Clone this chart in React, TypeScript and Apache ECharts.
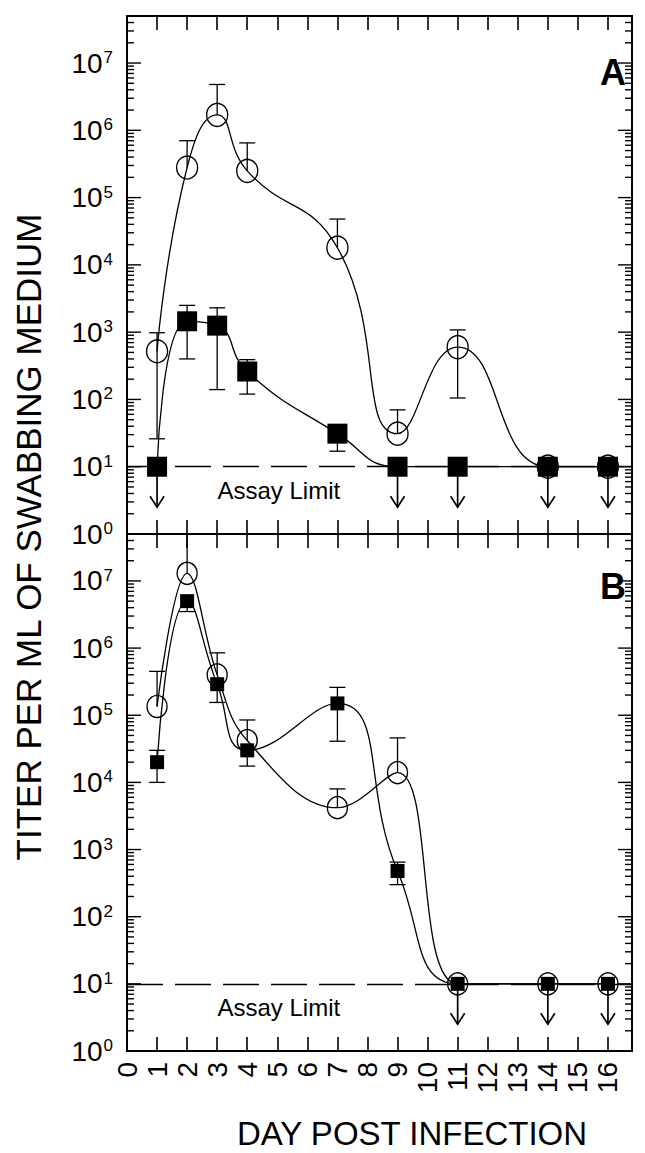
import React, { useEffect, useRef } from 'react';
import * as echarts from 'echarts';

// ---------- data ----------
const days = [1, 2, 3, 4, 7, 9, 11, 14, 16];

// Panel A
const aCircle = [520, 2.8e5, 1.7e6, 2.5e5, 1.8e4, 31, 600, 10, 10];
const aCircleHi = [980, 7e5, 4.8e6, 6.5e5, 4.8e4, 70, 1080, null, null];
const aCircleLo = [26, null, null, null, null, null, 105, null, null];
const aSquare = [10, 1450, 1250, 260, 31, 10, 10, 10, 10];
const aSquareHi = [null, 2500, 2300, 390, null, null, null, null, null];
const aSquareLo = [null, 400, 140, 120, 17, null, null, null, null];
const aArrowDays = [1, 9, 11, 14, 16];

// Panel B
const bCircle = [1.35e5, 1.3e7, 4e5, 4.2e4, 4.2e3, 1.4e4, 10, 10, 10];
const bCircleHi = [4.5e5, 5e7, 8.5e5, 8.5e4, 8e3, 4.6e4, null, null, null];
const bCircleLo = [null, null, null, null, null, null, null, null, null];
const bSquare = [2e4, 5e6, 2.9e5, 3e4, 1.5e5, 480, 10, 10, 10];
const bSquareHi = [3e4, null, null, null, 2.6e5, 650, null, null, null];
const bSquareLo = [1e4, 3.5e6, 1.55e5, 1.75e4, 4.1e4, 300, null, null, null];
const bArrowDays = [11, 14, 16];

const assayLimit = 10;
const assayLabel = 'Assay Limit';
const assayLabelAt = [5.05, 4.4];
const arrowTip = 2.5;
const yDecades = [1, 10, 100, 1e3, 1e4, 1e5, 1e6, 1e7];
const yMinorSteps = [2, 3, 4, 5, 6, 7, 8, 9];
const yMin = 1;
const yMax = 5e7;
const xMin = 0;
const xMax = 16.8;

const FONT = 'Liberation Sans, Arial, Helvetica, sans-serif';

function yTickValues(): number[] {
  const out: number[] = [];
  yDecades.forEach((d) => {
    out.push(d);
    yMinorSteps.forEach((m) => {
      const v = d * m;
      if (v < yMax) out.push(v);
    });
  });
  return out;
}

function errData(vals: number[], lo: (number | null)[], hi: (number | null)[]) {
  const out: number[][] = [];
  days.forEach((d, i) => {
    if (lo[i] == null && hi[i] == null) return;
    out.push([
      d,
      lo[i] != null ? (lo[i] as number) : vals[i],
      hi[i] != null ? (hi[i] as number) : vals[i],
      lo[i] != null ? 1 : 0,
      hi[i] != null ? 1 : 0,
    ]);
  });
  return out;
}

export default function App() {
  const ref = useRef<HTMLDivElement>(null);

  useEffect(() => {
    if (!ref.current) return;
    const chart = echarts.init(ref.current, undefined, { renderer: 'svg' });

    const grids = [
      { left: 127, top: 16, width: 505, height: 518 },
      { left: 127, top: 534, width: 505, height: 517 },
    ];

    const xAxisBase = (gridIndex: number, position: 'top' | 'bottom', labels: boolean) => ({
      type: 'value',
      gridIndex,
      position,
      min: xMin,
      max: xMax,
      interval: 1,
      axisLine: { show: false },
      splitLine: { show: false },
      axisTick: { show: true, inside: true, length: 14, lineStyle: { color: '#000', width: 1.6 } },
      axisLabel: labels
        ? {
            show: true,
            rotate: 90,
            margin: 11,
            fontSize: 28,
            fontFamily: FONT,
            color: '#000',
            formatter: (v: number) => (Math.abs(v - Math.round(v)) < 1e-6 ? String(Math.round(v)) : ''),
          }
        : { show: false },
    });

    const yAxisBase = (gridIndex: number) => ({
      type: 'log',
      logBase: 10,
      gridIndex,
      min: yMin,
      max: yMax,
      axisLine: { show: false },
      axisTick: { show: false },
      splitLine: { show: false },
      minorTick: { show: false },
      axisLabel: {
        show: true,
        margin: 14,
        formatter: (v: number) => {
          const k = Math.log10(v);
          if (Math.abs(k - Math.round(k)) > 1e-6) return '';
          return '{b|10}{s|' + Math.round(k) + '}';
        },
        rich: {
          b: { fontSize: 28, fontFamily: FONT, color: '#000', lineHeight: 30, verticalAlign: 'middle' },
          s: { fontSize: 17, fontFamily: FONT, color: '#000', lineHeight: 17, verticalAlign: 'top', padding: [1, 0, 0, 1] },
        },
      },
    });

    const tickSeries = (idx: number) => ({
      type: 'custom',
      xAxisIndex: idx * 2,
      yAxisIndex: idx,
      silent: true,
      z: 5,
      data: yTickValues().map((v) => [xMin, v]),
      renderItem: (params: any, api: any) => {
        const v = api.value(1);
        const p = api.coord([xMin, v]);
        const cs = params.coordSys;
        const k = Math.log10(v);
        const major = Math.abs(k - Math.round(k)) < 1e-6;
        const len = major ? 14 : 7;
        const st = { stroke: '#000', lineWidth: 1.4 };
        return {
          type: 'group',
          children: [
            { type: 'line', shape: { x1: cs.x, y1: p[1], x2: cs.x + len, y2: p[1] }, style: st },
            { type: 'line', shape: { x1: cs.x + cs.width - len, y1: p[1], x2: cs.x + cs.width, y2: p[1] }, style: st },
          ],
        };
      },
    });

    const errSeries = (idx: number, data: number[][]) => ({
      type: 'custom',
      xAxisIndex: idx * 2,
      yAxisIndex: idx,
      silent: true,
      z: 3,
      data,
      renderItem: (params: any, api: any) => {
        const d = api.value(0);
        const pl = api.coord([d, api.value(1)]);
        const ph = api.coord([d, api.value(2)]);
        const st = { stroke: '#000', lineWidth: 1.3 };
        const ch: any[] = [
          { type: 'line', shape: { x1: pl[0], y1: pl[1], x2: ph[0], y2: ph[1] }, style: st },
        ];
        const w = 8;
        if (api.value(3) === 1) ch.push({ type: 'line', shape: { x1: pl[0] - w, y1: pl[1], x2: pl[0] + w, y2: pl[1] }, style: st });
        if (api.value(4) === 1) ch.push({ type: 'line', shape: { x1: ph[0] - w, y1: ph[1], x2: ph[0] + w, y2: ph[1] }, style: st });
        return { type: 'group', children: ch };
      },
    });

    const arrowSeries = (idx: number, arrowDays: number[]) => ({
      type: 'custom',
      xAxisIndex: idx * 2,
      yAxisIndex: idx,
      silent: true,
      z: 3,
      data: arrowDays.map((d) => [d, assayLimit, arrowTip]),
      renderItem: (params: any, api: any) => {
        const d = api.value(0);
        const p1 = api.coord([d, api.value(1)]);
        const p2 = api.coord([d, api.value(2)]);
        const st = { stroke: '#000', lineWidth: 1.7, fill: 'none' };
        return {
          type: 'group',
          children: [
            { type: 'line', shape: { x1: p1[0], y1: p1[1], x2: p2[0], y2: p2[1] }, style: st },
            {
              type: 'polyline',
              shape: { points: [[p2[0] - 7, p2[1] - 11], [p2[0], p2[1]], [p2[0] + 7, p2[1] - 11]] },
              style: st,
            },
          ],
        };
      },
    });

    const lineSeries = (idx: number, vals: number[], kind: 'circle' | 'rect', size: any, smooth: number) => ({
      type: 'line',
      xAxisIndex: idx * 2,
      yAxisIndex: idx,
      data: days.map((d, i) => [d, vals[i]]),
      smooth,
      symbol: kind,
      symbolSize: size,
      z: kind === 'rect' ? 4 : 3,
      lineStyle: { color: '#000', width: 1.3 },
      itemStyle:
        kind === 'circle'
          ? { color: 'rgba(0,0,0,0)', borderColor: '#000', borderWidth: 1.4 }
          : { color: '#000', borderColor: '#000', borderWidth: 0 },
    });

    const limitSeries = (idx: number) => ({
      type: 'custom',
      xAxisIndex: idx * 2,
      yAxisIndex: idx,
      silent: true,
      z: 2,
      data: [assayLabelAt],
      renderItem: (params: any, api: any) => {
        const p = api.coord([api.value(0), api.value(1)]);
        return {
          type: 'text',
          x: p[0],
          y: p[1],
          style: {
            text: assayLabel,
            fontSize: 24,
            fontFamily: FONT,
            fill: '#000',
            textAlign: 'center',
            textVerticalAlign: 'middle',
          },
        };
      },
      markLine: {
        silent: true,
        symbol: 'none',
        label: { show: false },
        lineStyle: { color: '#000', width: 1.3, type: [36, 12] },
        data: [{ yAxis: assayLimit }],
      },
    });

    const option: any = {
      animation: false,
      backgroundColor: '#fff',
      grid: grids.map((g) => ({ ...g, show: true, borderColor: '#000', borderWidth: 2, backgroundColor: 'transparent' })),
      xAxis: [
        xAxisBase(0, 'bottom', false),
        xAxisBase(0, 'top', false),
        xAxisBase(1, 'bottom', true),
        xAxisBase(1, 'top', false),
      ],
      yAxis: [yAxisBase(0), yAxisBase(1)],
      series: [
        tickSeries(0),
        tickSeries(1),
        limitSeries(0),
        limitSeries(1),
        errSeries(0, errData(aCircle, aCircleLo, aCircleHi)),
        errSeries(0, errData(aSquare, aSquareLo, aSquareHi)),
        errSeries(1, errData(bCircle, bCircleLo, bCircleHi)),
        errSeries(1, errData(bSquare, bSquareLo, bSquareHi)),
        arrowSeries(0, aArrowDays),
        arrowSeries(1, bArrowDays),
        lineSeries(0, aCircle, 'circle', [21, 23], 0.5),
        lineSeries(0, aSquare, 'rect', 20, 0.5),
        lineSeries(1, bCircle, 'circle', [20, 22], 0.4),
        lineSeries(1, bSquare, 'rect', 14, 0.5),
      ],
      graphic: [
        {
          type: 'text',
          x: 28,
          y: 537,
          rotation: Math.PI / 2,
          style: {
            text: 'TITER PER ML OF SWABBING MEDIUM',
            fontSize: 35,
            fontFamily: FONT,
            fill: '#000',
            textAlign: 'center',
            textVerticalAlign: 'middle',
          },
        },
        {
          type: 'text',
          x: 412,
          y: 1133,
          style: {
            text: 'DAY POST INFECTION',
            fontSize: 33,
            fontFamily: FONT,
            fill: '#000',
            textAlign: 'center',
            textVerticalAlign: 'middle',
          },
        },
        {
          type: 'text',
          x: 626,
          y: 72,
          style: { text: 'A', fontSize: 36, fontWeight: 'bold', fontFamily: FONT, fill: '#000', textAlign: 'right', textVerticalAlign: 'middle' },
        },
        {
          type: 'text',
          x: 626,
          y: 586,
          style: { text: 'B', fontSize: 36, fontWeight: 'bold', fontFamily: FONT, fill: '#000', textAlign: 'right', textVerticalAlign: 'middle' },
        },
      ],
    };

    chart.setOption(option);
    return () => chart.dispose();
  }, []);

  return (
    <div
      ref={ref}
      style={{ position: 'absolute', left: 0, top: 0, width: 645, height: 1153, background: '#fff' }}
    />
  );
}
